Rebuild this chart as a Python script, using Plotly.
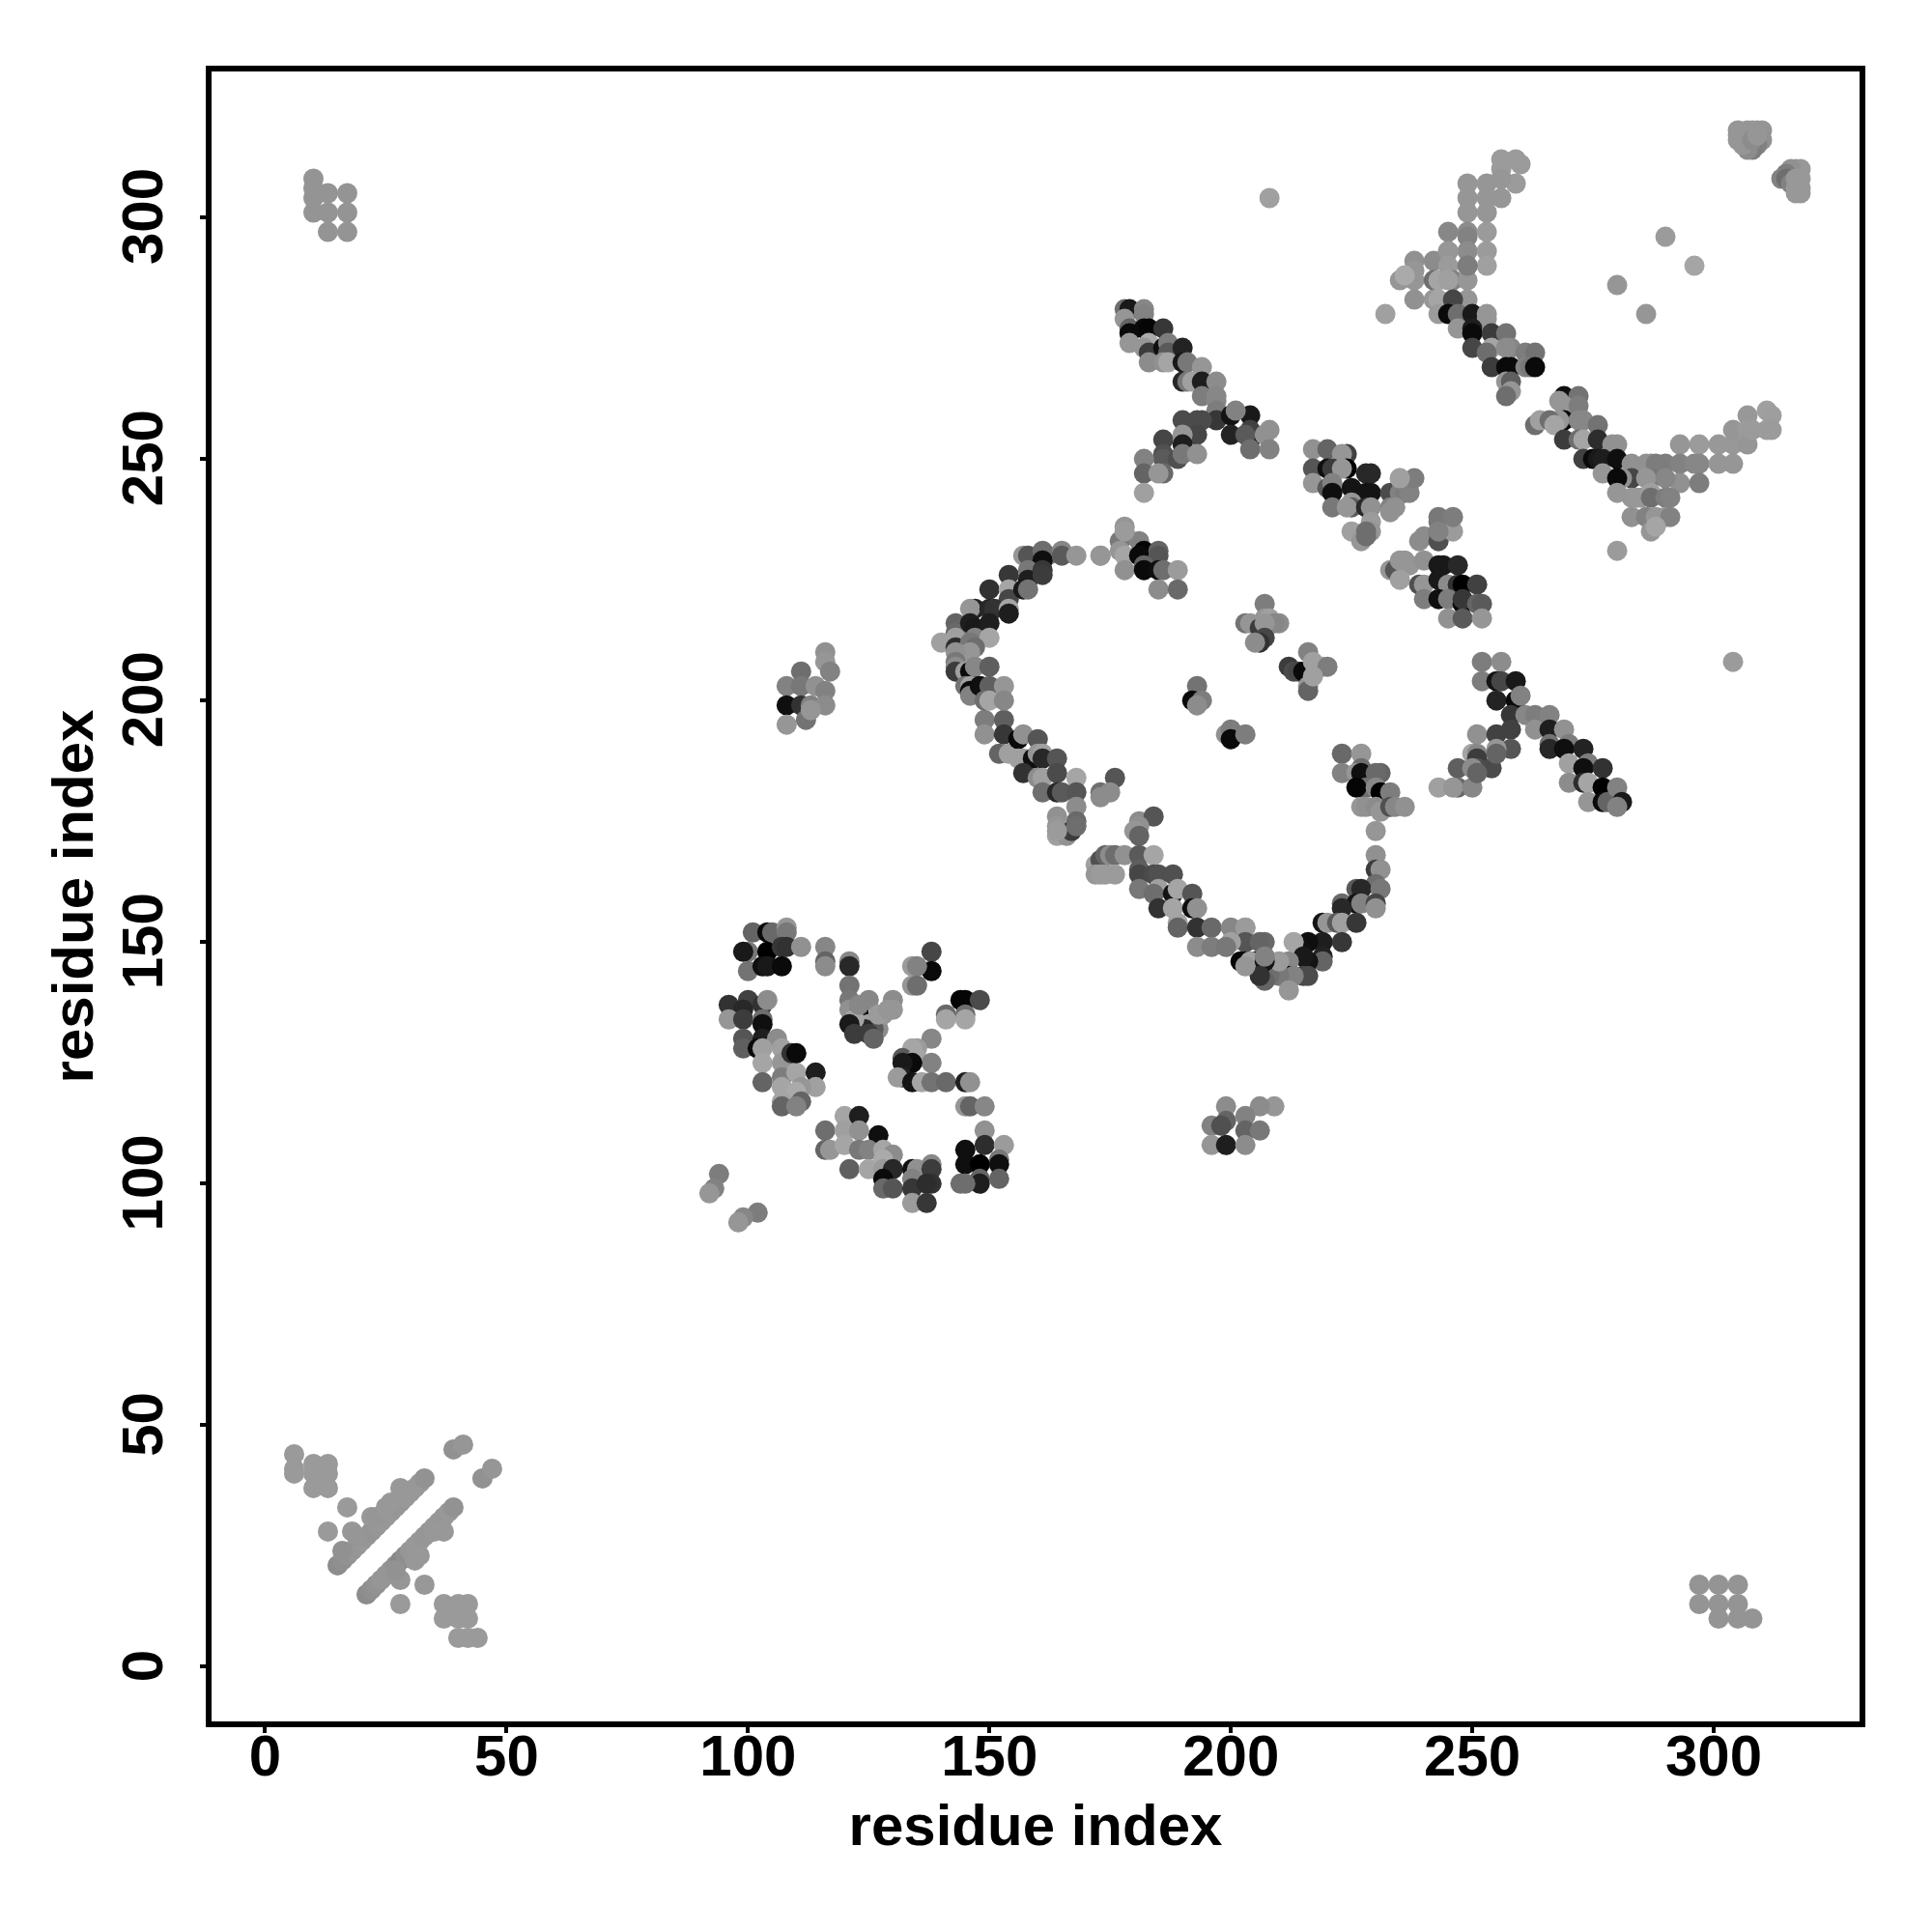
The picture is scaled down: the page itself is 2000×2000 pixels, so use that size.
import plotly.graph_objects as go

# corner and isolated contacts
nw_x = [10,10,10,10,13,17,13,17,13,17]
nw_y = [308,306,304,301,305,305,301,301,297,297]
nw_g = [148,148,148,148,148,148,148,148,148,148]

se_x = [297,297,301,301,301,305,305,305,308]
se_y = [17,13,17,13,10,17,13,10,10]
se_g = [148,148,148,148,148,148,148,148,148]

sw_up_x = [15,16,17,18,19,20,21,22,23,24,25,26,27,28,29,30,31,32,33,28,22,23,18,13,17,16,19,25,26,6,6,6,10,13,10,13,10,13,39,41,45,47]
sw_up_y = [21,22,23,24,25,26,27,28,29,30,31,32,33,34,35,36,37,38,39,37,31,31,28,28,33,24,27,33,34,44,41,40,42,42,40,40,37,37,45,46,39,41]
sw_up_g = [140,143,146,150,150,152,150,148,150,152,152,152,150,150,152,152,152,152,146,152,152,150,152,154,154,145,150,152,152,154,154,154,154,154,154,154,154,154,146,150,146,150]

sw_lo_x = [21,22,23,24,25,26,27,28,29,30,31,32,33,34,35,36,37,38,39,37,31,32,28,33,28,37,42,37,42,40,40,40,42,44,35,27]
sw_lo_y = [15,16,17,18,19,20,21,22,23,24,25,26,27,28,29,30,31,32,33,28,22,23,18,17,13,13,13,10,10,13,10,6,6,6,28,20]
sw_lo_g = [140,143,146,150,150,150,146,135,142,150,152,152,150,150,152,152,150,152,146,152,152,152,150,152,154,154,154,154,154,154,154,154,154,154,152,146]

ne1_x = [305,305,305,307,308,309,310,310,309,308,307,306,308,309]
ne1_y = [318,317,316,318,318,318,318,316,315,314,314,315,316,317]
ne1_g = [150,150,150,150,150,150,148,145,130,125,140,150,140,150]

ne2_x = [318,317,316,315,314,315,316,317,318,318,317,318,317]
ne2_y = [310,310,310,309,308,308,307,306,306,305,305,308,308]
ne2_g = [152,152,145,125,130,110,130,152,152,152,152,152,152]

iso_x = [208,290,296,280,286,232,280,304]
iso_y = [304,296,290,286,280,280,231,208]
iso_g = [160,155,165,150,150,160,155,155]

# upper right arc
arc_x = [256,259,260,256,256,259,249,253,256,249,253,256,249,253,245,249,249,253,245,249,253,253,249,238,242,238,238,238,235,236,242,243,242,243,243,245,245,246,245,249,249,249,246,245,247,250,253,253,247,250,250,254,257,250,254,253,258,257,261,263,254,257,258,261,262,263,257,258,258,257]
arc_y = [312,312,311,310,308,307,307,307,308,304,304,304,301,301,297,297,296,297,293,293,293,290,290,291,291,289,287,283,287,288,287,287,283,283,280,293,290,287,287,287,283,290,283,280,280,280,280,279,277,277,276,276,276,273,273,272,273,273,272,272,269,269,269,269,269,269,266,266,264,263]
arc_g = [155,155,155,155,155,155,150,150,150,150,150,150,150,150,135,140,130,155,150,140,155,160,125,145,140,150,150,145,150,170,110,165,150,165,155,150,155,130,160,150,150,125,70,10,110,25,150,150,150,30,10,60,115,70,165,110,135,140,125,115,60,10,10,130,120,10,150,95,150,110]

arc2_x = [269,272,268,269,272,269,268,273,272,263,264,266,267,276,269,272,273,276,279,280,273,275,276,277,280,277,283,283,281,286,287,288,280,280]
arc2_y = [263,263,262,261,261,258,258,258,258,257,258,258,257,257,254,254,254,254,253,253,250,250,250,250,250,247,249,246,246,249,249,249,246,243]
arc2_g = [15,115,150,150,125,10,150,135,135,110,160,110,165,115,60,110,165,45,145,145,65,10,25,30,15,150,145,70,145,145,145,125,10,150]

arc3_x = [290,293,293,296,297,297,301,301,304,304,304,307,307,307,308,311,311,312,312,293,297,287,286,290,283,284,285,287,287,290,291,283,286,288,290,291,287,288]
arc3_y = [249,253,249,249,253,249,253,249,253,249,256,259,256,253,256,260,256,259,256,245,245,246,246,246,242,242,242,243,242,242,242,238,238,238,238,238,235,236]
arc3_g = [125,150,130,135,155,135,152,150,152,150,150,152,155,150,155,160,155,158,155,145,125,120,150,135,150,152,152,160,110,125,130,145,130,150,150,130,150,165]

# long diagonal
d1_x = [178,179,182,178,182,179,179,182,183,186,179,183,182,183,186,187,187,190,183,186,187,190,191,194,190,191,192,194,197,194,197,197,197,197]
d1_y = [281,281,281,279,280,277,276,277,277,277,274,274,273,272,273,274,272,273,270,270,270,270,270,269,266,266,266,266,266,263,263,262,260,258]
d1_g = [110,25,135,150,130,100,10,10,5,55,150,170,150,60,15,125,90,35,140,145,165,25,120,150,40,120,160,30,140,125,135,135,125,55]

d2_x = [190,193,194,200,204,200,193,190,190,186,186,186,189,190,193,182,182,186,185,182,201,204,204,203,204,207,208,208]
d2_y = [258,258,258,259,259,255,255,255,253,254,251,250,250,251,251,250,247,247,247,243,260,256,254,255,252,255,256,252]
d2_g = [75,75,75,20,25,35,70,150,30,70,80,90,80,120,145,130,100,105,150,160,130,65,30,90,110,145,145,130]

c1_x = [217,220,224,223,217,220,221,224,223,228,229,217,220,221,221,225,228,229,221,225,225,224,228,229,229,225,229,228,227,228]
c1_y = [252,252,251,251,248,248,248,248,248,247,247,245,244,245,243,244,243,243,240,241,240,240,240,240,237,235,235,235,233,234]
c1_g = [145,100,65,150,85,15,60,0,150,40,40,150,90,130,15,20,20,20,120,150,90,150,40,145,155,160,150,110,150,110]

c2_x = [233,233,234,235,235,236,237,233,234,238,235]
c2_y = [243,240,240,243,246,243,243,239,240,246,246]
c2_g = [75,130,145,130,160,125,130,145,145,125,160]

c3_x = [239,240,243,243,243,243,246,246,243]
c3_y = [233,234,233,235,237,238,235,238,235]
c3_g = [140,140,80,90,120,120,155,125,130]

c4_x = [233,234,235,236,237,235,240,239,240,243,244,247,243,245,247,248,251,240,243,245,248,248,251,252,245,248,252]
c4_y = [227,227,229,229,228,225,229,224,224,228,228,228,225,224,224,224,224,221,221,221,220,221,220,220,217,217,217]
c4_g = [150,85,150,150,150,160,145,80,150,25,25,40,25,140,50,0,65,125,15,125,10,55,100,90,145,90,150]

c5_x = [178,178,177,177,181,178,182,181,185,185,178,182,182,185,186,189,185,189,173]
c5_y = [236,234,233,231,233,230,231,230,231,230,227,228,227,227,227,227,223,223,230]
c5_g = [150,150,120,150,130,165,5,10,100,85,145,100,10,15,110,155,140,105,150]

c6_x = [207,207,203,204,210,208,209,206,207,207,206,205]
c6_y = [220,217,216,216,216,217,216,215,216,213,212,212]
c6_g = [125,150,115,150,140,160,135,60,150,70,50,140]

c7_x = [212,213,214,215,216,217,219,220,216,216,217]
c7_y = [207,206,206,206,210,208,207,207,203,202,205]
c7_g = [60,75,70,10,130,160,160,125,150,100,160]

c8_x = [252,256,252,255,256,259,255,259,260,258,261,263,266]
c8_y = [208,208,204,204,204,204,200,200,201,197,197,197,197]
c8_g = [125,140,125,20,70,25,35,10,130,55,135,125,130]

c9_x = [250,251,255,258,258,255,251,251,247,251,254,250,247,243,246,250,255,251]
c9_y = [189,193,193,194,190,190,189,188,186,186,186,186,182,182,182,182,189,185]
c9_g = [165,145,65,65,85,150,135,60,95,80,75,140,105,160,150,135,100,100]

c10_x = [263,266,269,266,266,270,269,273,270,274,273,270,273,274,277,277,274,277,278,280,281,280]
c10_y = [194,194,194,191,190,191,190,190,187,187,186,183,183,183,186,182,179,179,179,182,179,178]
c10_g = [145,30,145,115,40,125,15,35,160,125,15,140,45,165,50,0,150,10,100,130,25,130]

# ring
r1_x = [223,227,223,227,226,227,231,230,227,228,226,230,231,233,227,228,230,231,233,234,236]
r1_y = [189,189,185,186,185,185,185,185,182,182,182,182,181,181,178,178,178,177,178,178,178]
r1_g = [105,150,130,110,150,15,100,105,15,110,5,135,0,125,150,145,140,150,80,135,145]

r2_x = [230,230,230,231,230,226,227,231,223,226,227,230,230,223,219,220,222,223,226,219,223,216,213,219,219,216,215,212]
r2_y = [173,168,165,165,162,161,161,161,158,158,158,158,157,157,154,154,154,154,154,150,150,150,150,147,146,146,147,146]
r2_g = [150,145,60,145,110,90,40,120,105,20,130,70,145,40,20,150,90,160,55,30,55,15,165,35,100,20,25,135]

r3_x = [215,216,212,213,210,212,208,206,207,205,206,203,202,207,203,203,210]
r3_y = [143,143,143,143,143,140,143,143,147,146,145,146,146,150,150,153,146]
r3_g = [70,75,5,130,120,150,110,110,130,5,30,150,5,105,85,155,155]

r4_x = [149,153,149,153,152,154,156,157,160,156,157,159,160,161,157,161,164,160,161,164,168,161,164,165,168,176,173,175,173]
r4_y = [196,196,193,193,189,189,192,193,192,188,188,188,189,189,185,188,188,184,184,185,184,181,181,181,181,184,181,181,180]
r4_g = [125,95,145,55,100,160,10,145,85,160,160,15,150,160,50,40,85,140,160,75,165,110,40,90,85,85,110,140,140]

r5_x = [168,168,164,164,164,166,167,168,164,181,184,181,180,181]
r5_y = [178,175,176,174,172,172,173,174,173,175,176,174,173,172]
r5_g = [140,105,145,150,160,145,60,110,155,140,85,145,150,100]

r6_x = [172,173,174,175,176,178,181,184,172,173,174,176,181,181,181,184,185,188,185,184,185,188,189,192,188,189,189,192,193,193,196,200,203,203,200,193,196,199,203,204,206,207,207,206,203,207]
r6_y = [166,167,168,168,168,168,168,168,164,164,164,164,165,164,161,164,164,164,161,160,157,160,161,160,157,154,153,157,157,153,153,153,153,150,150,149,149,149,146,146,150,146,142,143,145,147]
r6_g = [160,80,100,140,110,145,90,165,150,155,155,155,95,70,120,75,80,80,160,110,50,20,165,85,165,165,100,15,145,50,105,135,155,85,160,140,125,120,5,160,100,20,100,50,150,130]

r7_x = [178,157,158,161,162,161,165,165,168,173,154,158,158,161,161,150,154,154,157,158]
r7_y = [235,230,230,231,230,229,231,230,230,230,226,227,225,227,226,223,223,221,223,223]
r7_g = [155,150,85,110,110,15,135,90,150,150,55,120,30,55,60,50,165,70,25,115]

r8_x = [147,146,150,151,154,154,143,143,146,147,150,147,150,140,143,143,146,147,146]
r8_y = [219,219,219,219,219,218,216,214,216,215,216,213,213,212,213,211,212,211,210]
r8_g = [35,150,40,50,165,30,100,105,30,25,30,130,165,160,160,45,120,110,150]

r9_x = [143,143,143,143,145,146,147,150,145,146,146,146,148,150,153,149,150,153]
r9_y = [210,208,207,206,206,206,207,207,203,203,202,201,203,203,203,200,200,200]
r9_g = [145,120,140,60,160,10,135,95,115,160,10,130,15,95,150,110,165,135]

i1_x = [193,192,194,193,199,200,200,203]
i1_y = [203,200,200,199,193,194,192,193]
i1_g = [115,10,125,140,145,125,10,125]

i2_x = [116,116,111,117,108,111,114,116,108,111,113,116,108,112,113]
i2_y = [210,208,206,206,203,203,203,202,199,199,199,199,195,196,198]
i2_g = [145,150,110,130,130,120,145,130,15,50,130,140,150,115,150]

i3_x = [209,206,199,203,199,196,198,203,206,196,199,203]
i3_y = [116,116,116,114,113,112,112,111,111,108,108,108]
i3_g = [150,140,140,130,100,130,80,100,120,150,30,140]

# lower left flower
f1_x = [101,104,105,108,108,100,99,104,107,108,111,100,103,104,107,116,116,116,121,121,121,121,125,130]
f1_y = [152,152,152,153,152,148,148,148,149,149,149,144,145,145,145,149,146,145,146,145,141,138,138,138]
f1_g = [100,10,105,150,120,120,25,0,55,50,145,115,15,25,10,135,100,140,135,40,115,120,135,140]

f2_x = [121,123,125,127,128,126,124,122,121,130,122,125,127,129,123,126]
f2_y = [136,135,133,132,135,132,132,134,133,136,131,131,135,136,137,130]
f2_g = [145,15,160,140,150,90,40,165,25,150,60,60,155,150,135,100]

f3_x = [138,138,134,135,134,135]
f3_y = [148,144,145,145,141,141]
f3_g = [70,10,155,130,150,110]

f4_x = [96,100,99,103,104,96,99,103,103,99,99,103,102,106,103,107,103,107,103,107,110,109,110,114,114,111,107,110,107,107,111,110]
f4_y = [137,138,136,137,138,134,134,134,133,130,128,130,128,130,128,128,125,125,121,122,123,127,127,123,120,120,120,119,117,116,117,116]
f4_g = [50,65,40,50,140,150,60,110,15,85,95,30,10,140,160,160,165,150,100,125,165,50,10,30,160,150,165,170,165,100,100,130]

f5_x = [144,145,148,141,141,145,145]
f5_y = [138,138,138,135,134,135,134]
f5_g = [5,5,75,105,165,110,165]

f6_x = [138,135,134,132,135,138,134,132,132,131,134,136,138,141,145,146,145,146,149,149]
f6_y = [130,128,128,126,126,125,125,125,122,122,121,121,121,121,121,121,116,116,116,111]
f6_g = [135,155,165,90,165,130,10,25,35,155,20,165,115,105,30,145,150,100,135,145]

f7_x = [120,123,127,116,120,123,116,117,120,123,125,128,130,121,125,128,128,130,128,128,130,134,135,138,138,134,134,138,137,134,137]
f7_y = [114,114,110,111,111,111,107,107,108,107,107,107,106,103,103,105,103,103,101,99,99,103,103,104,103,101,99,100,100,96,96]
f7_g = [165,30,15,110,160,145,100,150,165,120,130,165,140,95,165,170,155,40,10,105,85,15,145,135,60,130,55,50,45,155,55]

f8_x = [145,149,153,152,145,148,152,148,148,144,145,152]
f8_y = [107,108,108,105,104,104,104,101,100,100,100,101]
f8_g = [15,45,155,120,15,0,15,100,30,110,110,100]

f9_x = [94,93,92,102,99,98]
f9_y = [102,99,98,94,93,92]
f9_g = [125,130,150,125,135,150]

groups = [
    (nw_x, nw_y, nw_g), (se_x, se_y, se_g), (sw_up_x, sw_up_y, sw_up_g), (sw_lo_x, sw_lo_y, sw_lo_g),
    (ne1_x, ne1_y, ne1_g), (ne2_x, ne2_y, ne2_g), (iso_x, iso_y, iso_g),
    (arc_x, arc_y, arc_g), (arc2_x, arc2_y, arc2_g), (arc3_x, arc3_y, arc3_g),
    (d1_x, d1_y, d1_g), (d2_x, d2_y, d2_g), (c1_x, c1_y, c1_g), (c2_x, c2_y, c2_g), (c3_x, c3_y, c3_g),
    (c4_x, c4_y, c4_g), (c5_x, c5_y, c5_g), (c6_x, c6_y, c6_g), (c7_x, c7_y, c7_g), (c8_x, c8_y, c8_g),
    (c9_x, c9_y, c9_g), (c10_x, c10_y, c10_g), (r1_x, r1_y, r1_g), (r2_x, r2_y, r2_g), (r3_x, r3_y, r3_g),
    (r4_x, r4_y, r4_g), (r5_x, r5_y, r5_g), (r6_x, r6_y, r6_g), (r7_x, r7_y, r7_g), (r8_x, r8_y, r8_g),
    (r9_x, r9_y, r9_g), (i1_x, i1_y, i1_g), (i2_x, i2_y, i2_g), (i3_x, i3_y, i3_g),
    (f1_x, f1_y, f1_g), (f2_x, f2_y, f2_g), (f3_x, f3_y, f3_g), (f4_x, f4_y, f4_g), (f5_x, f5_y, f5_g),
    (f6_x, f6_y, f6_g), (f7_x, f7_y, f7_g), (f8_x, f8_y, f8_g), (f9_x, f9_y, f9_g),
]

tick_vals = [0, 50, 100, 150, 200, 250, 300]
axis_title = "residue index"

fig = go.Figure()
for i, (x, y, g) in enumerate(groups):
    assert len(x) == len(y) == len(g), (i, len(x), len(y), len(g))
    fig.add_trace(go.Scatter(
        x=x, y=y, mode="markers", hoverinfo="skip", showlegend=False,
        marker=dict(size=21, color=[f"rgb({v},{v},{v})" for v in g], line=dict(width=0)),
    ))

font = dict(family="Liberation Sans", size=60, color="black", weight="bold")
common = dict(
    tickvals=tick_vals, showgrid=False, zeroline=False, showline=True, linewidth=5.5, linecolor="black",
    mirror=True, ticks="outside", ticklen=6, tickwidth=3.5, tickcolor="black", tickfont=font,
)
fig.update_xaxes(range=[-11.1, 330.2], ticklabelstandoff=-28, title=dict(text=axis_title, font=font, standoff=20), **common)
fig.update_yaxes(range=[-11.3, 330.2], tickangle=-90, ticklabelstandoff=15, ticklabelshift=8, title=dict(text=axis_title, font=font, standoff=0), **common)
fig.update_layout(
    width=2000, height=2000, paper_bgcolor="white", plot_bgcolor="white", showlegend=False,
    margin=dict(l=210.5, r=83, t=66, b=226, pad=0, autoexpand=False),
)
fig.write_html("out.html")
